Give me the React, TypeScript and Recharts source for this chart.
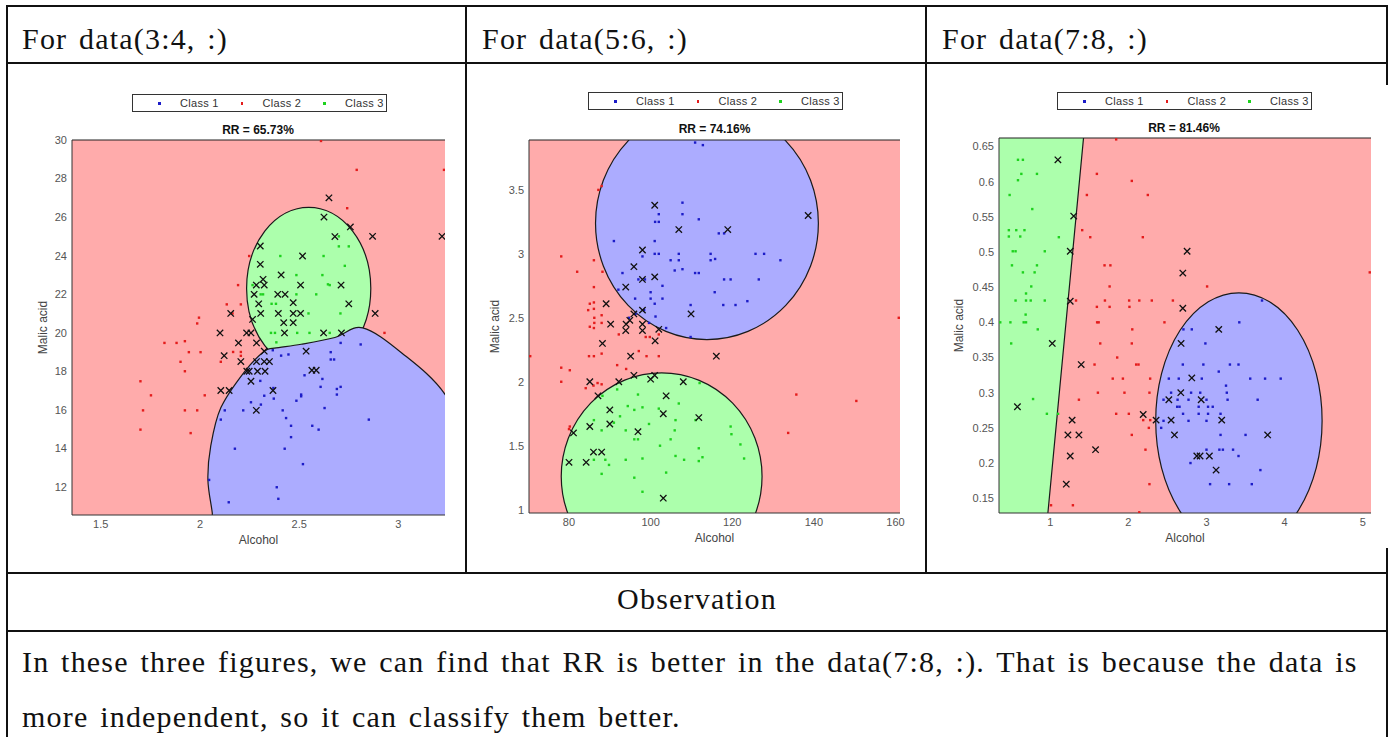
import { ScatterChart, Scatter, XAxis, YAxis, ReferenceArea, ReferenceLine, Label } from "recharts"

type Pt = [number, number]
type Ellipse = { cx: number; cy: number; rx: number; ry: number }

// ---------- panel 1 : data(3:4, :) ----------
const p1Class1: Pt[] = [
  [2.367, 19.09], [2.409, 18.81], [2.446, 18.87], [2.659, 18.99], [2.709, 19.47], [2.81, 19.39], [2.659, 18.61],
  [2.676, 18.61], [2.527, 17.79], [2.617, 17.6], [2.608, 17.19], [2.709, 17.19], [2.69, 17.08], [2.69, 16.79],
  [2.51, 16.79], [2.51, 16.7], [2.486, 16.47], [2.304, 17.5], [2.37, 17.13], [2.372, 16.58], [2.324, 16.73],
  [2.307, 16.27], [2.257, 16.39], [2.218, 15.97], [2.125, 15.97], [2.105, 15.49], [2.417, 15.97], [2.434, 15.57],
  [2.459, 15.17], [2.566, 15.17], [2.598, 14.97], [2.628, 16.09], [2.459, 14.58], [2.427, 13.98], [2.176, 13.98],
  [2.519, 13.18], [2.046, 12.36], [2.387, 11.98], [2.395, 11.38], [2.145, 11.2], [2.851, 15.49],
]
const p1Class2: Pt[] = [
  [2.61, 29.95], [2.79, 28.45], [3.23, 28.45], [2.742, 26.46], [2.248, 23.98], [2.192, 22.47], [2.135, 21.47],
  [2.206, 21.47], [2.164, 21.0], [1.995, 20.78], [1.986, 20.48], [1.821, 19.47], [1.882, 19.47], [1.924, 19.56],
  [1.944, 18.99], [2.003, 18.99], [1.902, 18.49], [2.105, 18.49], [1.924, 18.0], [2.206, 19.0], [2.206, 18.8],
  [2.167, 19.0], [1.7, 17.48], [1.753, 16.75], [2.024, 16.75], [1.713, 15.97], [1.924, 15.97], [1.986, 15.97],
  [1.7, 14.97], [1.953, 14.79], [2.93, 19.99],
]
const p1Class3: Pt[] = [
  [2.7, 25.0], [2.7, 24.48], [2.75, 24.48], [2.405, 23.98], [2.623, 23.98], [2.73, 23.47], [2.486, 22.99],
  [2.617, 22.99], [2.654, 22.47], [2.318, 21.99], [2.486, 21.99], [2.586, 21.99], [2.265, 22.47], [2.306, 21.99],
  [2.361, 21.5], [2.383, 21.5], [2.645, 22.51], [2.547, 21.0], [2.708, 21.0], [2.358, 19.99], [2.378, 19.99],
  [2.49, 19.99], [2.552, 19.99], [2.385, 19.5], [2.654, 19.99],
]
const p1Errors: Pt[] = [
  [2.65, 27.0], [2.625, 26.0], [2.758, 25.49], [2.68, 24.99], [2.87, 25.0], [3.22, 25.0], [2.304, 24.5],
  [2.517, 23.98], [2.304, 23.55], [2.409, 23.0], [2.318, 22.77], [2.284, 22.47], [2.324, 22.47], [2.507, 22.47],
  [2.711, 22.47], [2.273, 21.99], [2.392, 21.99], [2.429, 21.99], [2.296, 21.5], [2.47, 21.56], [2.75, 21.5],
  [2.155, 21.0], [2.306, 21.0], [2.395, 21.0], [2.47, 21.0], [2.507, 21.0], [2.883, 21.0], [2.422, 20.52],
  [2.47, 20.52], [2.265, 20.69], [2.101, 19.99], [2.235, 19.99], [2.257, 19.99], [2.426, 19.99], [2.623, 19.99],
  [2.713, 19.99], [2.194, 19.47], [2.285, 19.47], [2.324, 19.04], [2.535, 19.04], [2.122, 18.81], [2.206, 18.5],
  [2.285, 18.5], [2.324, 18.5], [2.35, 18.5], [2.236, 18.0], [2.248, 18.0], [2.29, 18.0], [2.328, 18.0],
  [2.564, 18.05], [2.586, 18.05], [2.257, 17.48], [2.368, 17.0], [2.105, 17.0], [2.147, 17.0], [2.284, 15.97],
]
const p1XTicks = [1.5, 2, 2.5, 3]
const p1YTicks = [12, 14, 16, 18, 20, 22, 24, 26, 28, 30]
const p1XDomain: Pt = [1.355, 3.235]
const p1YDomain: Pt = [10.54, 30]
const p1GreenRegion: Ellipse = { cx: 2.548, cy: 22.3, rx: 0.313, ry: 4.2 }
const p1BlueRegion: Pt[] = [
  [2.08, 9.0], [2.062, 10.65], [2.04, 12.36], [2.054, 14.1], [2.105, 16.1], [2.223, 17.96], [2.324, 19.04],
  [2.375, 19.2], [2.51, 19.4], [2.68, 19.75], [2.82, 20.25], [3.017, 18.95], [3.235, 16.8], [3.38, 13.5],
  [3.42, 10.0], [3.3, 8.0], [2.6, 7.5],
]

// ---------- panel 2 : data(5:6, :) ----------
const p2Class1: Pt[] = [
  [110.9, 3.87], [112.8, 3.85], [107.8, 3.4], [107.8, 3.31], [102.0, 3.31], [101.1, 3.25], [102.0, 3.25],
  [111.8, 3.27], [91.0, 3.1], [101.0, 3.1], [116.7, 3.16], [118.0, 3.16], [101.0, 3.0], [102.0, 3.0], [106.9, 3.0],
  [104.9, 2.95], [106.9, 2.95], [114.7, 3.0], [114.7, 2.95], [115.8, 2.96], [125.7, 3.0], [127.8, 3.0],
  [131.8, 2.95], [98.0, 2.98], [93.1, 2.85], [105.9, 2.87], [107.8, 2.88], [110.9, 2.85], [111.8, 2.85],
  [97.0, 2.8], [98.6, 2.8], [102.9, 2.75], [118.0, 2.8], [119.6, 2.8], [126.5, 2.8], [92.1, 2.72], [100.0, 2.7],
  [115.7, 2.7], [96.2, 2.65], [100.0, 2.65], [102.9, 2.65], [101.0, 2.61], [109.8, 2.6], [117.8, 2.6],
  [120.8, 2.6], [123.7, 2.63], [96.3, 2.53], [98.4, 2.56], [101.2, 2.51], [103.8, 2.42], [109.8, 2.35],
  [94.7, 2.5], [99.6, 2.46],
]
const p2Class2: Pt[] = [
  [87.2, 3.5], [88.0, 3.53], [78.1, 2.98], [86.1, 2.95], [82.0, 2.86], [88.2, 2.86], [86.1, 2.74], [86.1, 2.62],
  [85.1, 2.61], [84.7, 2.56], [86.1, 2.57], [88.0, 2.52], [86.2, 2.5], [86.2, 2.46], [88.0, 2.46], [85.1, 2.43],
  [86.1, 2.42], [92.2, 2.37], [98.8, 2.35], [99.8, 2.35], [102.0, 2.37], [84.9, 2.2], [86.1, 2.2], [88.0, 2.22],
  [70.5, 2.2], [97.1, 2.24], [99.0, 2.2], [102.0, 2.2], [78.1, 2.11], [80.2, 2.09], [91.8, 2.13], [94.0, 2.1],
  [78.1, 2.0], [84.1, 1.95], [86.0, 1.97], [87.0, 1.99], [88.0, 1.98], [80.2, 1.65], [80.0, 1.63], [135.7, 1.9],
  [133.7, 1.6], [150.4, 1.85], [160.8, 2.5],
]
const p2Class3: Pt[] = [
  [91.8, 1.94], [88.2, 1.89], [96.9, 1.9], [94.4, 1.81], [92.5, 1.73], [96.0, 1.78], [98.0, 1.8], [102.0, 1.79],
  [106.9, 1.83], [86.1, 1.7], [88.0, 1.62], [91.0, 1.68], [93.9, 1.62], [99.6, 1.67], [106.1, 1.7], [111.0, 1.7],
  [105.9, 1.62], [96.0, 1.55], [96.9, 1.55], [102.3, 1.5], [104.9, 1.55], [88.9, 1.39], [89.8, 1.35], [86.1, 1.39],
  [93.9, 1.39], [98.0, 1.4], [106.1, 1.42], [108.2, 1.39], [111.8, 1.48], [111.8, 1.38], [112.7, 1.41],
  [119.6, 1.65], [119.8, 1.59], [122.0, 1.51], [122.9, 1.4], [103.8, 1.29], [88.0, 1.28], [96.0, 1.25],
  [98.0, 1.14], [112.0, 1.99],
]
const p2Errors: Pt[] = [
  [101.0, 3.38], [106.9, 3.19], [118.9, 3.19], [138.6, 3.3], [98.0, 3.03], [95.9, 2.9], [98.0, 2.8], [101.0, 2.82],
  [93.9, 2.74], [89.1, 2.61], [98.0, 2.56], [95.9, 2.53], [90.2, 2.45], [94.0, 2.45], [94.9, 2.48], [98.0, 2.45],
  [93.9, 2.4], [98.0, 2.4], [102.0, 2.41], [109.9, 2.53], [88.2, 2.3], [101.1, 2.32], [95.1, 2.2], [116.1, 2.2],
  [95.9, 2.05], [92.2, 2.0], [85.1, 2.0], [100.0, 2.02], [101.0, 2.05], [108.0, 2.0], [87.1, 1.89], [103.8, 1.89],
  [90.0, 1.78], [103.1, 1.75], [111.8, 1.72], [90.0, 1.67], [81.1, 1.6], [96.9, 1.61], [85.1, 1.65], [86.0, 1.45],
  [88.0, 1.45], [80.0, 1.37], [84.2, 1.37], [103.1, 1.09],
]
const p2XTicks = [80, 100, 120, 140, 160]
const p2YTicks = [1, 1.5, 2, 2.5, 3, 3.5]
const p2XDomain: Pt = [70.2, 161.1]
const p2YDomain: Pt = [0.974, 3.89]
const p2BlueRegion: Ellipse = { cx: 113.8, cy: 3.24, rx: 27.3, ry: 0.91 }
const p2GreenRegion: Ellipse = { cx: 102.7, cy: 1.26, rx: 24.6, ry: 0.81 }

// ---------- panel 3 : data(7:8, :) ----------
const p3Class1: Pt[] = [
  [3.711, 0.431], [3.42, 0.4], [2.705, 0.39], [2.812, 0.39], [2.986, 0.37], [2.697, 0.34], [2.96, 0.34],
  [3.3, 0.34], [3.41, 0.34], [3.157, 0.33], [2.518, 0.32], [2.645, 0.32], [2.94, 0.32], [3.56, 0.32],
  [3.75, 0.32], [3.95, 0.32], [3.25, 0.31], [2.547, 0.3], [2.803, 0.3], [2.92, 0.3], [3.26, 0.3], [2.45, 0.29],
  [2.63, 0.29], [2.77, 0.29], [3.0, 0.29], [3.27, 0.29], [3.655, 0.29], [2.625, 0.28], [2.655, 0.28], [2.9, 0.28],
  [3.02, 0.28], [3.08, 0.28], [2.7, 0.27], [2.9, 0.27], [3.02, 0.27], [3.18, 0.27], [2.45, 0.26], [2.77, 0.26],
  [3.0, 0.26], [2.42, 0.25], [3.18, 0.24], [3.5, 0.24], [3.0, 0.219], [3.165, 0.219], [3.21, 0.219],
  [3.34, 0.219], [3.41, 0.21], [2.795, 0.2], [3.69, 0.19], [3.046, 0.17], [3.29, 0.17], [3.58, 0.17],
]
const p3Class2: Pt[] = [
  [1.844, 0.66], [1.597, 0.611], [2.044, 0.601], [1.469, 0.581], [2.249, 0.581], [1.409, 0.531], [1.512, 0.521],
  [2.185, 0.521], [1.695, 0.481], [1.77, 0.481], [1.76, 0.451], [3.008, 0.451], [5.09, 0.471], [1.33, 0.431],
  [1.7, 0.431], [2.01, 0.431], [2.14, 0.431], [2.3, 0.431], [2.57, 0.431], [1.597, 0.422], [1.76, 0.422],
  [2.014, 0.422], [1.6, 0.4], [1.62, 0.4], [2.462, 0.4], [2.05, 0.39], [1.64, 0.37], [2.044, 0.37], [1.857, 0.35],
  [1.567, 0.34], [2.1, 0.34], [2.13, 0.34], [1.8, 0.32], [1.93, 0.32], [2.279, 0.32], [1.61, 0.3], [1.95, 0.3],
  [2.27, 0.3], [1.367, 0.29], [1.844, 0.27], [2.006, 0.27], [2.19, 0.261], [2.28, 0.261], [2.262, 0.25],
  [2.044, 0.24], [2.219, 0.219], [2.27, 0.17], [1.29, 0.14], [1.01, 0.14], [2.14, 0.13],
]
const p3Class3: Pt[] = [
  [0.587, 0.631], [0.65, 0.631], [0.63, 0.611], [0.587, 0.602], [0.83, 0.611], [0.48, 0.581], [0.77, 0.561],
  [0.47, 0.531], [0.565, 0.531], [0.67, 0.531], [0.47, 0.522], [0.616, 0.522], [1.11, 0.521], [0.52, 0.501],
  [0.556, 0.501], [0.93, 0.501], [0.51, 0.481], [0.83, 0.481], [0.65, 0.471], [0.8, 0.471], [0.757, 0.451],
  [0.69, 0.441], [0.556, 0.431], [0.69, 0.431], [0.75, 0.431], [0.93, 0.431], [0.685, 0.411], [0.36, 0.4],
  [0.49, 0.4], [0.66, 0.4], [0.69, 0.4], [0.84, 0.39], [0.5, 0.37], [0.78, 0.291], [0.957, 0.27], [1.1, 0.27],
]
const p3Errors: Pt[] = [
  [1.098, 0.631], [1.3, 0.551], [1.256, 0.501], [2.752, 0.501], [2.697, 0.47], [1.256, 0.43], [2.697, 0.42],
  [3.157, 0.39], [1.026, 0.37], [2.675, 0.37], [1.396, 0.34], [2.812, 0.321], [0.58, 0.28], [2.671, 0.3],
  [2.518, 0.29], [2.932, 0.29], [1.28, 0.261], [2.19, 0.269], [2.355, 0.261], [2.547, 0.261], [3.195, 0.261],
  [1.226, 0.24], [1.367, 0.24], [2.59, 0.24], [3.783, 0.24], [1.58, 0.219], [1.256, 0.21], [2.876, 0.21],
  [2.918, 0.21], [3.037, 0.21], [3.123, 0.19], [1.205, 0.17],
]
const p3XTicks = [1, 2, 3, 4, 5]
const p3YTicks = [0.15, 0.2, 0.25, 0.3, 0.35, 0.4, 0.45, 0.5, 0.55, 0.6, 0.65]
const p3XDomain: Pt = [0.344, 5.106]
const p3YDomain: Pt = [0.129, 0.662]
const p3GreenRegion: Pt[] = [[0.2, 0.1], [0.945, 0.1], [1.4585, 0.7], [0.2, 0.7]]
const p3BlueRegion: Ellipse = { cx: 3.415, cy: 0.26, rx: 1.065, ry: 0.182 }

const classNames = ["Class 1", "Class 2", "Class 3"]
const rrLabels = ["RR = 65.73%", "RR = 74.16%", "RR = 81.46%"]
const headers = ["For data(3:4, :)", "For data(5:6, :)", "For data(7:8, :)"]

const PINK = "#ffabab"
const BLUE_BG = "#acacff"
const GREEN_BG = "#acffac"
const DOT_COLORS = ["#1c1cc8", "#e41c1c", "#1ed21e"]
const EDGE = "#1a1a1a"
const LINE = "#111"
const SERIF = "'Liberation Serif', serif"
const SANS = "'Liberation Sans', Arial, sans-serif"

const toRows = (pts: Pt[]) => pts.map(([x, y]) => ({ x, y }))

const dotShape = (color: string) => (p: any) => (
  <rect x={p.cx - 1.2} y={p.cy - 1.2} width={2.4} height={2.4} fill={color} />
)

const crossShape = (p: any) => (
  <path
    d={`M${p.cx - 3.2},${p.cy - 3.2}L${p.cx + 3.2},${p.cy + 3.2}M${p.cx - 3.2},${p.cy + 3.2}L${p.cx + 3.2},${p.cy - 3.2}`}
    stroke="#111"
    strokeWidth={1.3}
  />
)

// closed Catmull-Rom curve through the boundary vertices
function closedPath(pts: { x: number; y: number }[], smooth: boolean) {
  if (!smooth) return "M" + pts.map((p) => `${p.x},${p.y}`).join("L") + "Z"
  const n = pts.length
  let d = `M${pts[0].x},${pts[0].y}`
  for (let i = 0; i < n; i++) {
    const p0 = pts[(i - 1 + n) % n]
    const p1 = pts[i]
    const p2 = pts[(i + 1) % n]
    const p3 = pts[(i + 2) % n]
    d += `C${p1.x + (p2.x - p0.x) / 6},${p1.y + (p2.y - p0.y) / 6} ${p2.x - (p3.x - p1.x) / 6},${p2.y - (p3.y - p1.y) / 6} ${p2.x},${p2.y}`
  }
  return d + "Z"
}

function ellipseArea(key: string, e: Ellipse, fill: string) {
  return (
    <ReferenceArea
      key={key}
      x1={e.cx - e.rx}
      x2={e.cx + e.rx}
      y1={e.cy - e.ry}
      y2={e.cy + e.ry}
      ifOverflow="hidden"
      shape={(p: any) => (
        <g clipPath={p.clipPath}>
          <ellipse
            cx={p.x + p.width / 2}
            cy={p.y + p.height / 2}
            rx={p.width / 2}
            ry={p.height / 2}
            fill={fill}
            stroke={EDGE}
            strokeWidth={1.2}
          />
        </g>
      )}
    />
  )
}

function polygonArea(key: string, pts: Pt[], fill: string, smooth: boolean) {
  const xs = pts.map((p) => p[0])
  const ys = pts.map((p) => p[1])
  const x1 = Math.min(...xs)
  const x2 = Math.max(...xs)
  const y1 = Math.min(...ys)
  const y2 = Math.max(...ys)
  return (
    <ReferenceArea
      key={key}
      x1={x1}
      x2={x2}
      y1={y1}
      y2={y2}
      ifOverflow="hidden"
      shape={(p: any) => {
        const px = pts.map(([vx, vy]) => ({
          x: p.x + ((vx - x1) / (x2 - x1)) * p.width,
          y: p.y + ((y2 - vy) / (y2 - y1)) * p.height,
        }))
        return (
          <g clipPath={p.clipPath}>
            <path d={closedPath(px, smooth)} fill={fill} stroke={EDGE} strokeWidth={1.2} />
          </g>
        )
      }}
    />
  )
}

const panels = [
  {
    left: 8, top: 64, width: 454, height: 508, yw: 64, mt: 76, mr: 17, xh: 57, yLab: 35, xLab: 28,
    legend: [132, 94], title: [258, 130],
    xDomain: p1XDomain, yDomain: p1YDomain, xTicks: p1XTicks, yTicks: p1YTicks,
    classes: [p1Class1, p1Class2, p1Class3], errors: p1Errors,
    regions: [ellipseArea("g", p1GreenRegion, GREEN_BG), polygonArea("b", p1BlueRegion, BLUE_BG, true)],
  },
  {
    left: 467, top: 64, width: 458, height: 508, yw: 62, mt: 76, mr: 25, xh: 59, yLab: 28, xLab: 30,
    legend: [588, 92], title: [714.5, 129],
    xDomain: p2XDomain, yDomain: p2YDomain, xTicks: p2XTicks, yTicks: p2YTicks,
    classes: [p2Class1, p2Class2, p2Class3], errors: p2Errors,
    regions: [ellipseArea("b", p2BlueRegion, BLUE_BG), ellipseArea("g", p2GreenRegion, GREEN_BG)],
  },
  {
    left: 928, top: 64, width: 458, height: 508, yw: 71, mt: 74, mr: 15, xh: 59, yLab: 31, xLab: 30,
    legend: [1057, 92], title: [1184, 128],
    xDomain: p3XDomain, yDomain: p3YDomain, xTicks: p3XTicks, yTicks: p3YTicks,
    classes: [p3Class1, p3Class2, p3Class3], errors: p3Errors,
    regions: [polygonArea("g", p3GreenRegion, GREEN_BG, false), ellipseArea("b", p3BlueRegion, BLUE_BG)],
  },
]

function LegendBox({ left, top }: { left: number; top: number }) {
  return (
    <div
      style={{
        position: "absolute", left, top, width: 255, height: 18, boxSizing: "border-box",
        border: "1px solid #333", background: "#fff", fontFamily: SANS, fontSize: 11, color: "#333",
      }}
    >
      {classNames.map((name, i) => (
        <div key={name}>
          <div
            style={{
              position: "absolute", left: 25 + i * 82.5, top: 7, width: 2.5, height: 2.5,
              background: DOT_COLORS[i],
            }}
          />
          <div style={{ position: "absolute", left: 47 + i * 82.5, top: 1, lineHeight: "14px", letterSpacing: 0.3 }}>
            {name}
          </div>
        </div>
      ))}
    </div>
  )
}

function Panel({ cfg, idx }: { cfg: (typeof panels)[number]; idx: number }) {
  const tick = { fontSize: 11, fill: "#555", fontFamily: SANS }
  return (
    <>
      <div style={{ position: "absolute", left: cfg.left, top: cfg.top }}>
        <ScatterChart
          width={cfg.width}
          height={cfg.height}
          margin={{ top: cfg.mt, right: cfg.mr, left: 0, bottom: 0 }}
          style={{ fontFamily: SANS }}
        >
          <XAxis
            type="number"
            dataKey="x"
            domain={cfg.xDomain}
            ticks={cfg.xTicks}
            interval={0}
            allowDataOverflow
            height={cfg.xh}
            tickLine={false}
            tickSize={3}
            tickMargin={2}
            axisLine={{ stroke: "#333" }}
            tick={tick}
          >
            <Label value="Alcohol" position="insideBottom" offset={cfg.xLab} style={{ fontSize: 12, fill: "#444" }} />
          </XAxis>
          <YAxis
            type="number"
            dataKey="y"
            domain={cfg.yDomain}
            ticks={cfg.yTicks}
            interval={0}
            allowDataOverflow
            width={cfg.yw}
            tickLine={false}
            tickSize={3}
            tickMargin={2}
            axisLine={{ stroke: "#333" }}
            tick={tick}
          >
            <Label
              value="Malic acid"
              angle={-90}
              position="insideLeft"
              offset={cfg.yLab}
              style={{ fontSize: 12, fill: "#444", textAnchor: "middle" }}
            />
          </YAxis>
          <ReferenceArea
            x1={cfg.xDomain[0]}
            x2={cfg.xDomain[1]}
            y1={cfg.yDomain[0]}
            y2={cfg.yDomain[1]}
            ifOverflow="hidden"
            fill={PINK}
            fillOpacity={1}
          />
          {cfg.regions}
          {cfg.classes.map((pts, i) => (
            <Scatter
              key={classNames[i]}
              name={classNames[i]}
              data={toRows(pts)}
              shape={dotShape(DOT_COLORS[i])}
              isAnimationActive={false}
            />
          ))}
          <Scatter name="misclassified" data={toRows(cfg.errors)} shape={crossShape} isAnimationActive={false} />
          <ReferenceLine y={cfg.yDomain[1]} stroke="#222" strokeWidth={1.2} />
        </ScatterChart>
      </div>
      <LegendBox left={cfg.legend[0]} top={cfg.legend[1]} />
      <div
        style={{
          position: "absolute", left: cfg.title[0] - 80, top: cfg.title[1] - 7, width: 160, textAlign: "center",
          fontFamily: SANS, fontSize: 12, fontWeight: "bold", lineHeight: "14px", color: "#111",
        }}
      >
        {rrLabels[idx]}
      </div>
    </>
  )
}

const hLine = (top: number, left: number, width: number) => (
  <div style={{ position: "absolute", top, left, width, height: 2, background: LINE }} />
)
const vLine = (left: number, top: number, height: number) => (
  <div style={{ position: "absolute", top, left, width: 2, height, background: LINE }} />
)

export default function App() {
  const textStyle = {
    position: "absolute" as const, fontFamily: SERIF, fontSize: 30, lineHeight: "30px",
    letterSpacing: 1.2, wordSpacing: 3, color: "#111", whiteSpace: "nowrap" as const,
  }
  return (
    <div style={{ position: "absolute", left: 0, top: 0, width: 1392, height: 737, background: "#fff", overflow: "hidden" }}>
      {headers.map((h, i) => (
        <div key={h} style={{ ...textStyle, left: [22, 482, 942][i], top: 24 }}>
          {h}
        </div>
      ))}
      {panels.map((cfg, i) => (
        <Panel key={i} cfg={cfg} idx={i} />
      ))}
      {hLine(5, 6, 1382)}
      {hLine(62, 6, 1382)}
      {hLine(572, 6, 1382)}
      {hLine(630, 6, 1382)}
      {vLine(6, 5, 732)}
      {vLine(1386, 5, 80)}
      {vLine(1386, 548, 189)}
      {vLine(465, 5, 568)}
      {vLine(925, 5, 568)}
      <div style={{ ...textStyle, left: 6, width: 1382, textAlign: "center", top: 584 }}>Observation</div>
      <div style={{ ...textStyle, left: 22, top: 647 }}>
        In these three figures, we can find that RR is better in the data(7:8, :). That is because the data is
      </div>
      <div style={{ ...textStyle, left: 22, top: 702 }}>more independent, so it can classify them better.</div>
    </div>
  )
}
